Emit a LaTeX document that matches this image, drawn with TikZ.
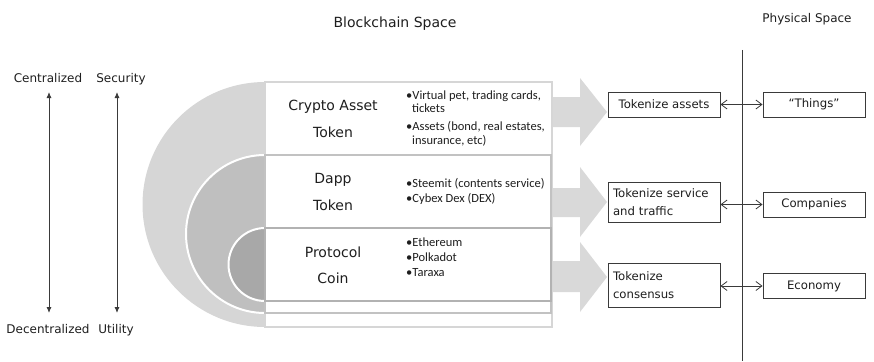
\documentclass[tikz,border=0pt]{standalone}
\usepackage{fontspec}
\setmainfont{DejaVu Sans}
\newfontfamily\carlito{Carlito}
\usetikzlibrary{arrows.meta}
\definecolor{ink}{HTML}{1E1E1E}
\definecolor{lineink}{HTML}{3A3A3A}
\definecolor{discA}{HTML}{D6D6D6}
\definecolor{discB}{HTML}{BFBFBF}
\definecolor{discC}{HTML}{A8A8A8}
\definecolor{rectA}{HTML}{D6D6D6}
\definecolor{rectB}{HTML}{C2C2C2}
\definecolor{rectC}{HTML}{B2B2B2}
\definecolor{barrowc}{HTML}{D9D9D9}
\tikzset{
  bigtxt/.style={inner sep=0pt, font=\fontsize{14}{16}\selectfont, text=ink},
  midtxt/.style={inner sep=0pt, font=\fontsize{12}{14}\selectfont, text=ink},
  bultxt/.style={inner sep=0pt, anchor=base west, font=\carlito\fontsize{12.5}{14}\selectfont, text=ink},
  tbox/.style={draw=lineink, line width=0.9pt, fill=white, inner xsep=5pt, inner ysep=0pt,
    font=\fontsize{11.7}{18}\selectfont, text=ink},
  pbox/.style={tbox, minimum width=102pt, minimum height=25pt, align=center},
  vaxis/.style={draw=lineink, line width=0.9pt, {Latex[length=6pt,width=5pt]}-{Latex[length=6pt,width=5pt]}},
  dbl/.style={draw=lineink, line width=0.8pt, {Straight Barb[length=6pt,width=9pt]}-{Straight Barb[length=6pt,width=9pt]}},
  barrow/.style={fill=barrowc},
  divider/.style={draw=lineink, line width=0.8pt},
  nest/.style={line width=2pt, fill=white}
}
\begin{document}
\begin{tikzpicture}[x=1pt,y=-1pt]
\useasboundingbox (0,0) rectangle (874,361);

% headings
\node[bigtxt, anchor=base] (bs) at (395,28) {Blockchain Space};
\node[midtxt, anchor=base] (ps) at (807,23) {Physical Space};

% left axes
\node[midtxt, anchor=base] (cen) at (48,82) {Centralized};
\node[midtxt, anchor=base] (sec) at (121,82) {Security};
\node[midtxt, anchor=base] (dec) at (48,333) {Decentralized};
\node[midtxt, anchor=base] (uti) at (116,333) {Utility};
\coordinate (ctop) at (49,92);
\coordinate (cbot) at (49,313);
\coordinate (stop) at (117,92);
\coordinate (sbot) at (117,313);
\draw[vaxis] (ctop) -- (cbot);
\draw[vaxis] (stop) -- (sbot);

% nested half discs
\begin{scope}
  \clip (0,0) rectangle (265,361);
  \fill[discA] (265,204.5) circle[radius=122.5];
  \filldraw[fill=discB, draw=white, line width=2pt] (265,234) circle[radius=79];
  \filldraw[fill=discC, draw=white, line width=2pt] (265,264.5) circle[radius=36.5];
\end{scope}

% nested boxes
\draw[nest, draw=rectA] (265,82) rectangle (552,327);
\draw[nest, draw=rectB] (265,154.5) rectangle (551,313);
\draw[nest, draw=rectC] (265,228) rectangle (551,301);

% box titles
\node[bigtxt, anchor=base] (ca1) at (333,110) {Crypto Asset};
\node[bigtxt, anchor=base] (ca2) at (333,137) {Token};
\node[bigtxt, anchor=base] (da1) at (333,183) {Dapp};
\node[bigtxt, anchor=base] (da2) at (333,210) {Token};
\node[bigtxt, anchor=base] (pc1) at (333,257) {Protocol};
\node[bigtxt, anchor=base] (pc2) at (333,283) {Coin};

% bullets
\node[bultxt] (b1) at (406,99) {•Virtual pet, trading cards,};
\node[bultxt] (b1b) at (412,112.5) {tickets};
\node[bultxt] (b2) at (406,130) {•Assets (bond, real estates,};
\node[bultxt] (b2b) at (412,144) {insurance, etc)};
\node[bultxt] (b3) at (406,187) {•Steemit (contents service)};
\node[bultxt] (b4) at (406,202.5) {•Cybex Dex (DEX)};
\node[bultxt] (b5) at (406,246) {•Ethereum};
\node[bultxt] (b6) at (406,261) {•Polkadot};
\node[bultxt] (b7) at (406,276) {•Taraxa};

% block arrows
\fill[barrow] (553,97) -- (580,97) -- (580,78) -- (607,112) -- (580,146) -- (580,127) -- (553,127) -- cycle;
\fill[barrow] (553,188) -- (580,188) -- (580,167) -- (607,202) -- (580,237) -- (580,217) -- (553,217) -- cycle;
\fill[barrow] (553,261) -- (580,261) -- (580,242) -- (607,277) -- (580,312) -- (580,292) -- (553,292) -- cycle;

% divider
\coordinate (vt) at (742,50);
\coordinate (vb) at (742,361);
\draw[divider] (vt) -- (vb);

% tokenize boxes
\node[tbox, minimum width=112pt, minimum height=25pt, align=center] (ta) at (664,104.5) {Tokenize assets};
\node[tbox, text width=102pt, minimum height=40pt, align=left] (ts) at (664,202) {Tokenize service\\and traffic};
\node[tbox, text width=102pt, minimum height=44pt, align=left] (tc) at (664,285) {Tokenize\\consensus};

% physical boxes
\node[pbox] (th) at (814,104.5) {“Things”};
\node[pbox] (cp) at (814,204.5) {Companies};
\node[pbox] (ec) at (814,286) {Economy};

% connectors
\draw[dbl] (ta.east) -- (th.west);
\draw[dbl] (ts.east |- cp.west) -- (cp.west);
\draw[dbl] (tc.east |- ec.west) -- (ec.west);
\end{tikzpicture}
\end{document}
